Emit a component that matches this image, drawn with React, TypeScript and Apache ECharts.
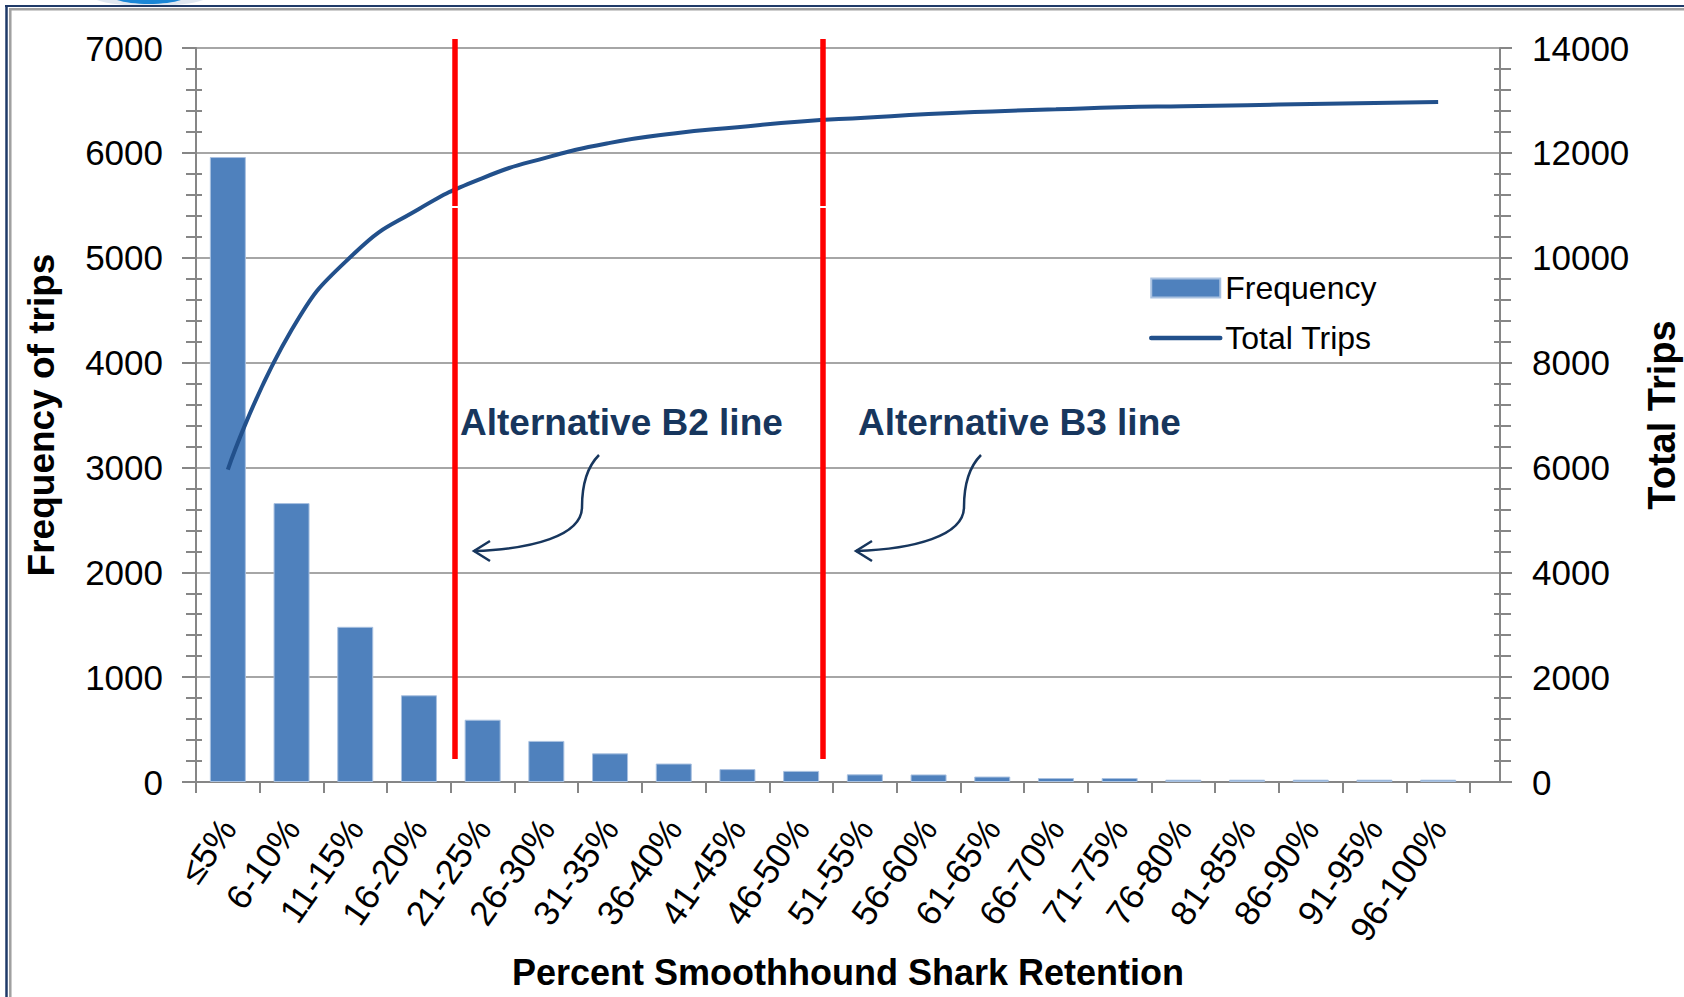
import React, { useEffect, useRef } from "react";
import * as echarts from "echarts";

// Retention classes along the horizontal axis
const categories = [
  "≤5%", "6-10%", "11-15%", "16-20%", "21-25%", "26-30%", "31-35%", "36-40%", "41-45%", "46-50%",
  "51-55%", "56-60%", "61-65%", "66-70%", "71-75%", "76-80%", "81-85%", "86-90%", "91-95%", "96-100%",
];

// Number of trips in each retention class (left axis)
const frequency = [5960, 2660, 1480, 827, 594, 392, 273, 176, 123, 106, 73, 72, 52, 38, 38, 22, 22, 22, 22, 22];

// Running total of trips (right axis)
const totalTrips = [
  5960, 8620, 10100, 10930, 11520, 11910, 12190, 12370, 12490, 12600,
  12670, 12740, 12790, 12830, 12870, 12890, 12910, 12930, 12950, 12970,
];

const frequencyTicks = [0, 1000, 2000, 3000, 4000, 5000, 6000, 7000];
const totalTripsTicks = [0, 2000, 4000, 6000, 8000, 10000, 12000, 14000];

const seriesNames = ["Frequency", "Total Trips"];
const xTitle = "Percent Smoothhound Shark Retention";
const leftTitle = "Frequency of trips";
const rightTitle = "Total Trips";
const cutoffLabels = ["Alternative B2 line", "Alternative B3 line"];

const W = 1684;
const H = 997;
const PLOT_LEFT = 196;
const PLOT_TOP = 48;
const PLOT_BOTTOM = 782;
const CAT_RIGHT = 1470;
const AXIS_RIGHT = 1500;

const FONT = '"Liberation Sans", Arial, Helvetica, sans-serif';
const AXIS_GRAY = "#868686";
const GRID_GRAY = "#a6a6a6";
const BAR_BLUE = "#4f81bd";
const LINE_BLUE = "#22508b";
const NAVY = "#17365d";
const RED = "#ff0000";

const step = (t: number[]) => t[1] - t[0];
const plain = (v: number) => String(v);

function arrow(x: number, y: number) {
  // hand-drawn style pointer: drops down from the label then sweeps left
  const s = { stroke: NAVY, lineWidth: 2.5, fill: "none" };
  return [
    {
      type: "bezierCurve",
      z: 100,
      shape: { x1: x, y1: y, cpx1: x - 13, cpy1: y + 13, cpx2: x - 17, cpy2: y + 33, x2: x - 17, y2: y + 52 },
      style: s,
    },
    {
      type: "bezierCurve",
      z: 100,
      shape: { x1: x - 17, y1: y + 52, cpx1: x - 17, cpy1: y + 81, cpx2: x - 67, cpy2: y + 94, x2: x - 125, y2: y + 96 },
      style: s,
    },
    {
      type: "polyline",
      z: 100,
      shape: { points: [[x - 109, y + 86], [x - 125, y + 96], [x - 109, y + 106]] },
      style: s,
    },
  ];
}

function redLine(x: number) {
  const s = { stroke: RED, lineWidth: 5.5 };
  return [
    { type: "line", z: 90, shape: { x1: x, y1: 39, x2: x, y2: 206 }, style: s },
    { type: "line", z: 90, shape: { x1: x, y1: 208, x2: x, y2: 759 }, style: s },
  ];
}

function App() {
  const ref = useRef<HTMLDivElement>(null);

  useEffect(() => {
    if (!ref.current) return;
    const chart = echarts.init(ref.current, null, { renderer: "svg" });

    const tickLine = { color: AXIS_GRAY, width: 2 };
    const tickLabel = { color: "#000", fontFamily: FONT, fontSize: 35, formatter: plain };

    const option: any = {
      animation: false,
      backgroundColor: "#fff",
      grid: [
        { left: PLOT_LEFT, right: W - CAT_RIGHT, top: PLOT_TOP, bottom: H - PLOT_BOTTOM },
        { left: PLOT_LEFT, right: W - AXIS_RIGHT, top: PLOT_TOP, bottom: H - PLOT_BOTTOM },
      ],
      legend: {
        orient: "vertical",
        left: 1149,
        top: 272,
        padding: 0,
        itemWidth: 69,
        itemHeight: 19,
        itemGap: 18,
        textStyle: { color: "#000", fontFamily: FONT, fontSize: 32, lineHeight: 32 },
        data: [
          { name: seriesNames[0], icon: "rect" },
          {
            name: seriesNames[1],
            itemStyle: { opacity: 0 },
            lineStyle: { width: 4.5, cap: "round", color: LINE_BLUE },
          },
        ],
      },
      xAxis: [
        {
          gridIndex: 0,
          type: "category",
          data: categories,
          boundaryGap: true,
          axisLine: { show: false },
          axisTick: { show: true, length: 11, lineStyle: tickLine },
          axisLabel: { interval: 0, rotate: 55, margin: 40, color: "#000", fontFamily: FONT, fontSize: 35 },
          splitLine: { show: false },
        },
        {
          gridIndex: 1,
          type: "value",
          min: 0,
          max: 1,
          axisLine: { show: true, lineStyle: tickLine },
          axisTick: { show: false },
          axisLabel: { show: false },
          splitLine: { show: false },
        },
      ],
      yAxis: [
        { gridIndex: 0, type: "value", min: frequencyTicks[0], max: frequencyTicks[frequencyTicks.length - 1], show: false },
        { gridIndex: 0, type: "value", min: totalTripsTicks[0], max: totalTripsTicks[totalTripsTicks.length - 1], show: false },
        {
          gridIndex: 1,
          type: "value",
          position: "left",
          min: frequencyTicks[0],
          max: frequencyTicks[frequencyTicks.length - 1],
          interval: step(frequencyTicks),
          axisLine: { show: true, lineStyle: tickLine },
          axisTick: { show: true, length: 14, lineStyle: tickLine },
          minorTick: { show: true, splitNumber: 5, length: 10, lineStyle: tickLine },
          splitLine: { show: true, lineStyle: { color: GRID_GRAY, width: 2 } },
          axisLabel: { ...tickLabel, margin: 33 },
        },
        {
          gridIndex: 1,
          type: "value",
          position: "right",
          min: totalTripsTicks[0],
          max: totalTripsTicks[totalTripsTicks.length - 1],
          interval: step(totalTripsTicks),
          axisLine: { show: true, lineStyle: tickLine },
          axisTick: { show: true, length: 12, lineStyle: tickLine },
          minorTick: { show: true, splitNumber: 5, length: 11, lineStyle: tickLine },
          splitLine: { show: false },
          axisLabel: { ...tickLabel, margin: 32 },
        },
        {
          // inner half of the crossing minor ticks, left side
          gridIndex: 1,
          type: "value",
          position: "left",
          min: frequencyTicks[0],
          max: frequencyTicks[frequencyTicks.length - 1],
          interval: step(frequencyTicks),
          axisLine: { show: false },
          axisTick: { show: false, inside: true },
          minorTick: { show: true, splitNumber: 5, length: 6, lineStyle: tickLine },
          splitLine: { show: false },
          axisLabel: { show: false },
        },
        {
          // inner half of the crossing minor ticks, right side
          gridIndex: 1,
          type: "value",
          position: "right",
          min: totalTripsTicks[0],
          max: totalTripsTicks[totalTripsTicks.length - 1],
          interval: step(totalTripsTicks),
          axisLine: { show: false },
          axisTick: { show: false, inside: true },
          minorTick: { show: true, splitNumber: 5, length: 6, lineStyle: tickLine },
          splitLine: { show: false },
          axisLabel: { show: false },
        },
      ],
      series: [
        {
          name: seriesNames[0],
          type: "bar",
          xAxisIndex: 0,
          yAxisIndex: 0,
          data: frequency,
          barWidth: 36,
          itemStyle: { color: BAR_BLUE, borderColor: "#a9c1e0", borderWidth: 1 },
        },
        {
          name: seriesNames[1],
          type: "line",
          xAxisIndex: 0,
          yAxisIndex: 1,
          data: totalTrips,
          smooth: true,
          symbol: "none",
          showSymbol: false,
          z: 3,
          lineStyle: { color: LINE_BLUE, width: 4 },
          itemStyle: { color: LINE_BLUE },
        },
      ],
      graphic: [
        // partial emblem peeking above the frame
        { type: "ellipse", z: 1, shape: { cx: 150, cy: -4, rx: 58, ry: 10 }, style: { fill: "#dfe7f1" } },
        { type: "ellipse", z: 2, shape: { cx: 149, cy: -6, rx: 40, ry: 10 }, style: { fill: "#1a86d6" } },
        // slide frame
        { type: "line", z: 5, shape: { x1: 5, y1: 6, x2: W, y2: 6 }, style: { stroke: "#1f3a68", lineWidth: 2 } },
        { type: "line", z: 5, shape: { x1: 6.5, y1: 5, x2: 6.5, y2: H }, style: { stroke: "#1f3a68", lineWidth: 2.5 } },
        { type: "line", z: 5, shape: { x1: 9, y1: 9.2, x2: W, y2: 9.2 }, style: { stroke: "#a0a0a0", lineWidth: 2.5 } },
        { type: "line", z: 5, shape: { x1: 10.3, y1: 8, x2: 10.3, y2: H }, style: { stroke: "#a0a0a0", lineWidth: 2.5 } },
        // cut-off lines
        ...redLine(455),
        ...redLine(823),
        {
          type: "text",
          z: 100,
          x: 460,
          y: 422,
          style: { text: cutoffLabels[0], fill: NAVY, font: `bold 37px ${FONT}`, align: "left", verticalAlign: "middle" },
        },
        {
          type: "text",
          z: 100,
          x: 858,
          y: 422,
          style: { text: cutoffLabels[1], fill: NAVY, font: `bold 37px ${FONT}`, align: "left", verticalAlign: "middle" },
        },
        ...arrow(599, 455),
        ...arrow(981, 455),
        // axis titles
        {
          type: "text",
          z: 100,
          x: 41,
          y: 415,
          rotation: Math.PI / 2,
          style: { text: leftTitle, fill: "#000", font: `bold 37px ${FONT}`, align: "center", verticalAlign: "middle" },
        },
        {
          type: "text",
          z: 100,
          x: 1662,
          y: 415,
          rotation: Math.PI / 2,
          style: { text: rightTitle, fill: "#000", font: `bold 38px ${FONT}`, align: "center", verticalAlign: "middle" },
        },
        {
          type: "text",
          z: 100,
          x: 848,
          y: 972,
          style: { text: xTitle, fill: "#000", font: `bold 36px ${FONT}`, align: "center", verticalAlign: "middle" },
        },
      ],
    };

    chart.setOption(option);
    return () => chart.dispose();
  }, []);

  return (
    <div
      ref={ref}
      style={{ position: "fixed", left: 0, top: 0, width: W, height: H, background: "#fff" }}
    />
  );
}

export default App;
